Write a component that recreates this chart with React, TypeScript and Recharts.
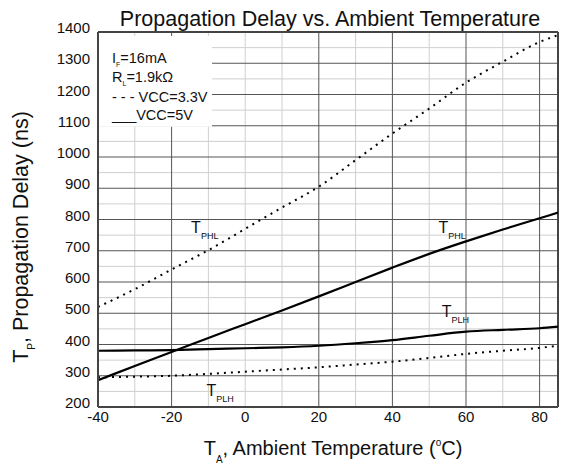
import { LineChart, Line, XAxis, YAxis, CartesianGrid, ReferenceLine, ReferenceArea, ReferenceDot } from 'recharts';

const FONT = '"Liberation Sans", Arial, sans-serif';

// temperature (°C) and propagation delay (ns)
const temps = [-40, -30, -20, -10, 0, 10, 20, 30, 40, 50, 60, 70, 80, 85];
const tphl33 = [520, 577, 640, 702, 770, 838, 905, 990, 1075, 1155, 1238, 1305, 1368, 1390];
const tplh33 = [295, 297, 300, 306, 313, 320, 327, 336, 345, 357, 370, 380, 389, 396];
const tphl5 = [286, 331, 376, 421, 465, 509, 554, 600, 646, 690, 730, 768, 804, 822];
const tplh5 = [380, 381, 382, 385, 388, 391, 396, 404, 414, 428, 441, 447, 452, 457];

const xTicks = [-40, -20, 0, 20, 40, 60, 80];
const yTicks = [200, 300, 400, 500, 600, 700, 800, 900, 1000, 1100, 1200, 1300, 1400];
const minorX = [-30, -10, 0, 10, 30, 50, 70];
const majorX = [-20, 20, 40, 60, 80];
const minorY = [250, 350, 450, 550, 650, 750, 850, 950, 1050, 1150, 1250, 1350];
const majorY = [300, 400, 500, 600, 700, 800, 900, 1000, 1100, 1200, 1300];

// curve annotations: where the "T" sits (data coords) and its subscript
const curveLabels = [
  { x: -14.7, y: 756, sub: 'PHL' },
  { x: 52.5, y: 756, sub: 'PHL' },
  { x: 53.4, y: 487, sub: 'PLH' },
  { x: -10.5, y: 235, sub: 'PLH' },
];

const data = temps.map((t, i) => ({
  t,
  phl33: tphl33[i],
  plh33: tplh33[i],
  phl5: tphl5[i],
  plh5: tplh5[i],
}));

function YTick({ x, y, payload }: any) {
  return (
    <text x={x} y={y + 1} textAnchor="end" fontSize={15} fill="#111" fontFamily={FONT}>
      {payload.value}
    </text>
  );
}

function XTick({ x, y, payload }: any) {
  return (
    <text x={x} y={y + 15} textAnchor="middle" fontSize={15} fill="#111" fontFamily={FONT}>
      {payload.value}
    </text>
  );
}

function CurveLabel({ cx, cy, sub }: any) {
  return (
    <text x={cx} y={cy} fontSize={16} fill="#111" stroke="none" fontFamily={FONT}>
      T<tspan fontSize={9} dy={6} fill="#111">{sub}</tspan>
    </text>
  );
}

export default function App() {
  return (
    <div style={{ position: 'absolute', left: 0, top: 0, width: 561, height: 466, background: '#fff' }}>
      <LineChart width={561} height={466} data={data} margin={{ top: 32, right: 3, left: 0, bottom: 0 }}>
        <CartesianGrid horizontalValues={minorY} verticalValues={minorX} stroke="#cfcfcf" strokeWidth={1} />
        <CartesianGrid horizontalValues={majorY} verticalValues={majorX} stroke="#555" strokeWidth={1} />
        <XAxis
          dataKey="t"
          type="number"
          domain={[-40, 85]}
          ticks={xTicks}
          interval={0}
          height={59}
          tickSize={0}
          tickMargin={0}
          tickLine={false}
          axisLine={{ stroke: '#444', strokeWidth: 2 }}
          tick={<XTick />}
          allowDataOverflow
        />
        <YAxis
          type="number"
          domain={[200, 1400]}
          ticks={yTicks}
          interval={0}
          width={98}
          tickSize={0}
          tickMargin={8}
          tickLine={false}
          axisLine={{ stroke: '#444', strokeWidth: 2 }}
          tick={<YTick />}
          allowDataOverflow
        />
        <ReferenceLine y={1400} stroke="#444" strokeWidth={2} />
        <ReferenceLine x={85} stroke="#444" strokeWidth={2} />
        <ReferenceArea x1={-40} x2={-9} y1={1097} y2={1387} fill="#fff" fillOpacity={1} stroke="none" />
        <Line type="monotone" dataKey="phl33" stroke="#000" strokeWidth={2} strokeDasharray="2 5" dot={false} isAnimationActive={false} />
        <Line type="monotone" dataKey="plh33" stroke="#000" strokeWidth={2} strokeDasharray="2 5" dot={false} isAnimationActive={false} />
        <Line type="monotone" dataKey="phl5" stroke="#000" strokeWidth={2.2} dot={false} isAnimationActive={false} />
        <Line type="monotone" dataKey="plh5" stroke="#000" strokeWidth={2.2} dot={false} isAnimationActive={false} />
        {curveLabels.map((c, i) => (
          <ReferenceDot
            key={i}
            x={c.x}
            y={c.y}
            r={0}
            fill="#111"
            stroke="none"
            shape={(p: any) => <CurveLabel cx={p.cx} cy={p.cy} sub={c.sub} />}
          />
        ))}
      </LineChart>
      <svg width={561} height={466} style={{ position: 'absolute', left: 0, top: 0, pointerEvents: 'none' }}>
        <g fontFamily={FONT} fill="#111">
          <text x={330} y={26} textAnchor="middle" fontSize={21.5}>
            Propagation Delay vs. Ambient Temperature
          </text>
          <text x={333} y={455} textAnchor="middle" fontSize={20}>
            T<tspan fontSize={10} dy={8}>A</tspan>
            <tspan fontSize={20} dy={-8}>, Ambient Temperature (</tspan>
            <tspan fontSize={10} dy={-9}>o</tspan>
            <tspan fontSize={20} dy={9}>C)</tspan>
          </text>
          <text transform="translate(28,237) rotate(-90)" textAnchor="middle" fontSize={21.5}>
            T<tspan fontSize={10} dy={7}>P</tspan>
            <tspan fontSize={21.5} dy={-7}>, Propagation Delay (ns)</tspan>
          </text>
          <g fontSize={14.5}>
            <text x={112} y={63}>
              I<tspan fontSize={7} dy={4}>F</tspan>
              <tspan fontSize={14.5} dy={-4}>=16mA</tspan>
            </text>
            <text x={112} y={82}>
              R<tspan fontSize={7} dy={4}>L</tspan>
              <tspan fontSize={14.5} dy={-4}>=1.9kΩ</tspan>
            </text>
            <text x={112} y={101.5}>- - - VCC=3.3V</text>
            <text x={112} y={120}>___VCC=5V</text>
          </g>
        </g>
      </svg>
    </div>
  );
}
